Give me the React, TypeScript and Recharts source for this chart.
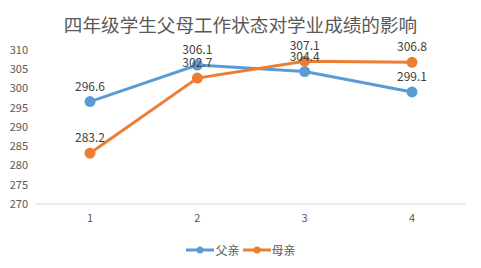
import React from 'react';
import { LineChart, Line, XAxis, YAxis, LabelList } from 'recharts';

const categories = ['1', '2', '3', '4'];
const fatherScores = [296.6, 306.1, 304.4, 299.1];
const motherScores = [283.2, 302.7, 307.1, 306.8];
const yTicks = [270, 275, 280, 285, 290, 295, 300, 305, 310];

const data = categories.map((c, i) => ({
  name: c,
  father: fatherScores[i],
  mother: motherScores[i],
}));

const FONT = '"Noto Sans CJK SC", "Microsoft YaHei", sans-serif';
const BLUE = '#5B9BD5';
const ORANGE = '#ED7D31';

function LegendContent() {
  const items = [
    { label: '父亲', color: BLUE },
    { label: '母亲', color: ORANGE },
  ];
  return (
    <div style={{ display: 'flex', justifyContent: 'center', gap: 2, fontFamily: FONT, fontSize: 12, color: '#595959' }}>
      {items.map((it) => (
        <div key={it.label} style={{ display: 'flex', alignItems: 'center' }}>
          <svg width={30} height={12}>
            <line x1={1} y1={6} x2={29} y2={6} stroke={it.color} strokeWidth={3} />
            <circle cx={15} cy={6} r={3.5} fill={it.color} />
          </svg>
          <span>{it.label}</span>
        </div>
      ))}
    </div>
  );
}

export default function App() {
  return (
    <div style={{ position: 'relative', width: 479, height: 266, border: '1px solid #d9d9d9', background: '#fff', margin: -8 }}>
      <div
        style={{
          position: 'absolute',
          top: 9,
          left: 0,
          width: '100%',
          textAlign: 'center',
          fontFamily: FONT,
          fontSize: 18.6,
          color: '#595959',
        }}
      >
        四年级学生父母工作状态对学业成绩的影响
      </div>
      <div style={{ position: 'absolute', top: 240, left: 0, width: '100%' }}>
        <LegendContent />
      </div>
      <LineChart width={479} height={266} data={data} margin={{ top: 49, right: 14, bottom: 33, left: 0 }}>
        <XAxis
          dataKey="name"
          height={30}
          axisLine={{ stroke: '#d9d9d9' }}
          tickLine={false}
          tickMargin={4}
          padding={{ left: 54, right: 54 }}
          tick={{ fill: '#595959', fontSize: 11, fontFamily: FONT }}
        />
        <YAxis
          domain={[270, 310]}
          ticks={yTicks}
          width={35}
          axisLine={false}
          tickLine={false}
          interval={0}
          tick={{ fill: '#595959', fontSize: 11, fontFamily: FONT }}
        />
        <Line dataKey="father" name="父亲" stroke={BLUE} strokeWidth={3} dot={{ r: 4, fill: BLUE, stroke: BLUE }} isAnimationActive={false}>
          <LabelList dataKey="father" position="top" offset={11} fill="#404040" fontSize={12} fontFamily={FONT} />
        </Line>
        <Line dataKey="mother" name="母亲" stroke={ORANGE} strokeWidth={3} dot={{ r: 4, fill: ORANGE, stroke: ORANGE }} isAnimationActive={false}>
          <LabelList dataKey="mother" position="top" offset={11} fill="#404040" fontSize={12} fontFamily={FONT} />
        </Line>
      </LineChart>
    </div>
  );
}
